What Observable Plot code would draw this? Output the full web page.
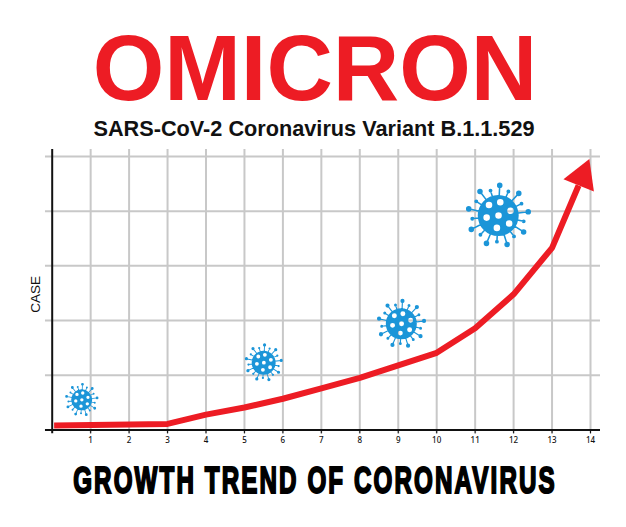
<!DOCTYPE html>
<html>
<head>
<meta charset="utf-8">
<script src="https://cdn.jsdelivr.net/npm/d3@7"></script>
<script src="https://cdn.jsdelivr.net/npm/@observablehq/plot@0.6"></script>
<style>
html,body{margin:0;padding:0;background:#fff;overflow:hidden}
#page{position:relative;width:626px;height:527px}
#head{height:140px;position:relative}
.t{position:absolute;left:0;width:626px;text-align:center;white-space:nowrap;margin:0}
#title{top:22px;font:bold 92px/92px "Liberation Sans",Arial,sans-serif;color:#ed1c24;transform:translateX(2px)}
#sub{top:117px;font:bold 21.7px/24px "Liberation Sans",Arial,sans-serif;color:#111;transform:translateX(1px)}
#foot{top:456px;font:bold 31px/50px "Liberation Sans Narrow","Liberation Sans",sans-serif;color:#000;transform:translateX(2px) scale(.78,1.22);-webkit-text-stroke:1.7px #000;letter-spacing:2.7px}
svg{display:block}
</style>
</head>
<body>
<div id="page">
  <div id="head">
    <h1 class="t" id="title">OMICRON</h1>
    <div class="t" id="sub">SARS-CoV-2 Coronavirus Variant B.1.1.529</div>
  </div>
  <div id="chart"></div>
  <div class="t" id="foot">GROWTH TREND OF CORONAVIRUS</div>
</div>
<script>
const xTicks = [0,1,2,3,4,5,6,7,8,9,10,11,12,13,14];
const yGrid = [1,2,3,4,5];
const trendX = [0.05,3,4,5,6,7,8,9,10,11,12,13,13.69];
const trendY = [0.08,0.11,0.28,0.41,0.57,0.76,0.95,1.18,1.41,1.86,2.48,3.33,4.47];
const arrowX = [13.785];
const arrowY = [4.634];
const virusX = [0.767,5.5,9.08,11.6];
const virusY = [0.55,1.23,1.94,3.92];
const virusR = [10.5,12,15.5,20.5];

const red = "#ed1c24", blue = "#1b95d8", grey = "#c8c8c8";

// Virus glyph as a custom d3-style symbol, scaled by the dot's radius
const virusSymbol = {
  draw(ctx, size) {
    const r = Math.sqrt(size / Math.PI), k = r / 20, N = 18;
    ctx.moveTo(r, 0);
    ctx.arc(0, 0, r, 0, 2 * Math.PI);
    ctx.closePath();
    for (let i = 0; i < N; ++i) {
      const a = -Math.PI / 2 + 0.05 + i * 2 * Math.PI / N;
      const long = i % 2 === 0;
      const len = (long ? 29.5 : 25.5) * k, head = (long ? 2.7 : 1.9) * k;
      const w = 0.75 * k, c = Math.cos(a), s = Math.sin(a);
      const r0 = 18 * k;
      ctx.moveTo(r0 * c + w * s, r0 * s - w * c);
      ctx.lineTo(len * c + w * s, len * s - w * c);
      ctx.lineTo(len * c - w * s, len * s + w * c);
      ctx.lineTo(r0 * c - w * s, r0 * s + w * c);
      ctx.closePath();
      ctx.moveTo(len * c + head, len * s);
      ctx.arc(len * c, len * s, head, 0, 2 * Math.PI);
      ctx.closePath();
    }
    for (const [hx, hy] of [[-9,-10.3],[2,-13],[12,-4.7],[-11.3,2],[0.3,0],[10.7,7.7],[-1.3,12]]) {
      const h = 3.2 * k;
      ctx.moveTo(hx * k + h, hy * k);
      ctx.arc(hx * k, hy * k, h, 0, 2 * Math.PI, true);
      ctx.closePath();
    }
  }
};

const xLo = -0.175, xHi = 14.26, yLo = -0.07, yHi = 5.13;
const trend = trendX.map((x, i) => ({x, y: trendY[i]}));
const viruses = virusX.map((x, i) => ({x, y: virusY[i], r: virusR[i]}));

const chart = Plot.plot({
  width: 626,
  height: 310,
  marginLeft: 51.7,
  marginRight: 36,
  marginTop: 16,
  marginBottom: 20.6,
  x: {domain: [0, 14]},
  y: {domain: [0, 5], axis: null},
  r: {type: "identity"},
  style: {background: "#fff", overflow: "visible"},
  marks: [
    Plot.ruleX(xTicks.slice(1), {y1: yLo, y2: yHi, stroke: grey, strokeWidth: 2}),
    Plot.ruleY(yGrid, {x1: xLo, x2: xHi, stroke: grey, strokeWidth: 2}),
    Plot.ruleY([0], {x1: xLo, x2: xHi, stroke: "#111", strokeWidth: 2}),
    Plot.ruleX([0], {y1: yLo, y2: yHi, stroke: "#111", strokeWidth: 2}),
    Plot.axisX({ticks: xTicks.slice(1), tickSize: 4, tickPadding: 3, fontSize: 8, fontWeight: 500, label: null, stroke: "#111", color: "#111", tickFormat: d => d}),
    Plot.line(trend, {x: "x", y: "y", stroke: red, strokeWidth: 6, strokeLinejoin: "miter", strokeLinecap: "butt", curve: "linear"}),
    Plot.dot(arrowX.map((x, i) => ({x, y: arrowY[i]})), {x: "x", y: "y", symbol: "triangle", r: 12.2, fill: red, stroke: "none", rotate: 22}),
    Plot.dot(viruses, {x: "x", y: "y", r: "r", symbol: virusSymbol, fill: blue, stroke: "none"}),
    Plot.text(["CASE"], {x: -0.435, y: 2.48, text: d => d, rotate: -90, fontSize: 13.5, fill: "#111", fontFamily: "Liberation Sans"})
  ]
});
document.getElementById("chart").appendChild(chart);
</script>
</body>
</html>
